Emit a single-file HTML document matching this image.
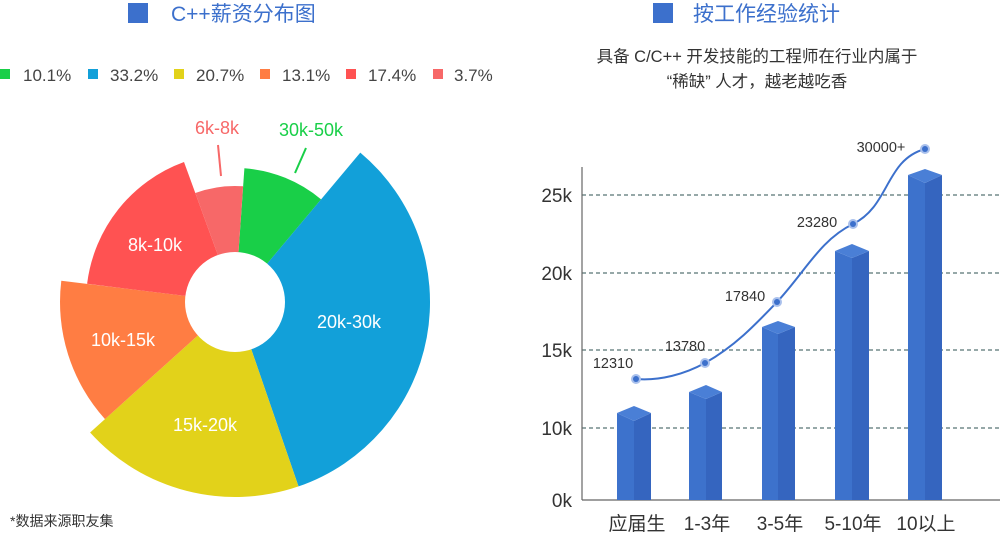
<!DOCTYPE html>
<html><head><meta charset="utf-8"><style>
html,body{margin:0;padding:0;background:#fff;}
svg{display:block;font-family:"Liberation Sans","Noto Sans CJK SC",sans-serif;}
</style></head><body>
<svg width="1001" height="533" viewBox="0 0 1001 533">
<rect x="128" y="3" width="20" height="20" fill="#3c70cc"/>
<text x="171" y="21" font-size="21" fill="#3c70cc">C++薪资分布图</text>
<g font-size="17" fill="#444">
<rect x="0" y="69" width="10" height="10" fill="#19cf48"/><text x="23" y="81">10.1%</text>
<rect x="88" y="69" width="10" height="10" fill="#12a0d9"/><text x="110" y="81">33.2%</text>
<rect x="174" y="69" width="10" height="10" fill="#e2d21a"/><text x="196" y="81">20.7%</text>
<rect x="260" y="69" width="10" height="10" fill="#ff7d43"/><text x="282" y="81">13.1%</text>
<rect x="346" y="69" width="10" height="10" fill="#ff5252"/><text x="368" y="81">17.4%</text>
<rect x="433" y="69" width="10" height="10" fill="#f76868"/><text x="454" y="81">3.7%</text>
</g>
<path d="M235,302 L244.4,168.3 A134,134 0 0 1 321.1,199.4 Z" fill="#19cf48"/>
<path d="M235,302 L360.3,152.6 A195,195 0 0 1 298.5,486.4 Z" fill="#12a0d9"/>
<path d="M235,302 L298.5,486.4 A195,195 0 0 1 90.1,432.5 Z" fill="#e2d21a"/>
<path d="M235,302 L105,419.1 A175,175 0 0 1 61.3,280.7 Z" fill="#ff7d43"/>
<path d="M235,302 L87.1,283.8 A149,149 0 0 1 184,162 Z" fill="#ff5252"/>
<path d="M235,302 L195.3,193 A116,116 0 0 1 243.1,186.3 Z" fill="#f76868"/>
<circle cx="235" cy="302" r="50" fill="#fff"/>
<g font-size="18" fill="#fff" text-anchor="middle">
<text x="155" y="251">8k-10k</text>
<text x="349" y="328">20k-30k</text>
<text x="123" y="346">10k-15k</text>
<text x="205" y="431">15k-20k</text>
</g>
<text x="217" y="134" font-size="18" fill="#f76868" text-anchor="middle">6k-8k</text>
<line x1="218" y1="145" x2="221" y2="176" stroke="#f76868" stroke-width="2"/>
<text x="311" y="136" font-size="18" fill="#19cf48" text-anchor="middle">30k-50k</text>
<line x1="306" y1="148" x2="295" y2="173" stroke="#19cf48" stroke-width="2"/>
<text x="10" y="526" font-size="14" fill="#333">*数据来源职友集</text>

<rect x="653" y="3" width="20" height="20" fill="#3c70cc"/>
<text x="693" y="21" font-size="21" fill="#3c70cc">按工作经验统计</text>
<g font-size="16.5" fill="#333" text-anchor="middle">
<text x="757" y="62">具备 C/C++ 开发技能的工程师在行业内属于</text>
<text x="757" y="87">“稀缺” 人才，越老越吃香</text>
</g>
<g stroke="#2c5050" stroke-width="1" stroke-dasharray="4,3">
<line x1="582" y1="195" x2="1000" y2="195"/>
<line x1="582" y1="273" x2="1000" y2="273"/>
<line x1="582" y1="350" x2="1000" y2="350"/>
<line x1="582" y1="428" x2="1000" y2="428"/>
</g>
<line x1="582" y1="167" x2="582" y2="500" stroke="#666" stroke-width="1.2"/>
<line x1="582" y1="500" x2="1000" y2="500" stroke="#666" stroke-width="1.2"/>
<g font-size="19" fill="#333" text-anchor="end">
<text x="572" y="202">25k</text>
<text x="572" y="280">20k</text>
<text x="572" y="357">15k</text>
<text x="572" y="435">10k</text>
<text x="572" y="507">0k</text>
</g>
<g>
<polygon points="617,413 634,421 634,500 617,500" fill="#3d72cc"/>
<polygon points="634,421 651,413 651,500 634,500" fill="#3565bf"/>
<polygon points="617,413 634,406 651,413 634,421" fill="#4a7fd6"/>
<polygon points="689,392 706,399 706,500 689,500" fill="#3d72cc"/>
<polygon points="706,399 722,392 722,500 706,500" fill="#3565bf"/>
<polygon points="689,392 706,385 722,392 706,399" fill="#4a7fd6"/>
<polygon points="762,327 778,334 778,500 762,500" fill="#3d72cc"/>
<polygon points="778,334 795,327 795,500 778,500" fill="#3565bf"/>
<polygon points="762,327 778,321 795,327 778,334" fill="#4a7fd6"/>
<polygon points="835,251 852,258 852,500 835,500" fill="#3d72cc"/>
<polygon points="852,258 869,251 869,500 852,500" fill="#3565bf"/>
<polygon points="835,251 852,244 869,251 852,258" fill="#4a7fd6"/>
<polygon points="908,175 925,183 925,500 908,500" fill="#3d72cc"/>
<polygon points="925,183 942,175 942,500 925,500" fill="#3565bf"/>
<polygon points="908,175 925,169 942,175 925,183" fill="#4a7fd6"/>
</g>
<path d="M636,379 C660,381 685,374 705,363 C735,346 755,325 777,302 C805,272 820,240 853,224 C890,206 885,160 925,149" fill="none" stroke="#3c70cc" stroke-width="2"/>
<g fill="#3c70cc">
<circle cx="636" cy="379" r="5" fill="#a9c0ec"/><circle cx="636" cy="379" r="3"/>
<circle cx="705" cy="363" r="5" fill="#a9c0ec"/><circle cx="705" cy="363" r="3"/>
<circle cx="777" cy="302" r="5" fill="#a9c0ec"/><circle cx="777" cy="302" r="3"/>
<circle cx="853" cy="224" r="5" fill="#a9c0ec"/><circle cx="853" cy="224" r="3"/>
<circle cx="925" cy="149" r="5" fill="#a9c0ec"/><circle cx="925" cy="149" r="3"/>
</g>
<g font-size="14.5" fill="#333" text-anchor="middle">
<text x="613" y="368">12310</text>
<text x="685" y="351">13780</text>
<text x="745" y="301">17840</text>
<text x="817" y="227">23280</text>
<text x="881" y="152">30000+</text>
</g>
<g font-size="19" fill="#333" text-anchor="middle">
<text x="637" y="530">应届生</text>
<text x="707" y="530">1-3年</text>
<text x="780" y="530">3-5年</text>
<text x="853" y="530">5-10年</text>
<text x="926" y="530">10以上</text>
</g>
</svg>
</body></html>
